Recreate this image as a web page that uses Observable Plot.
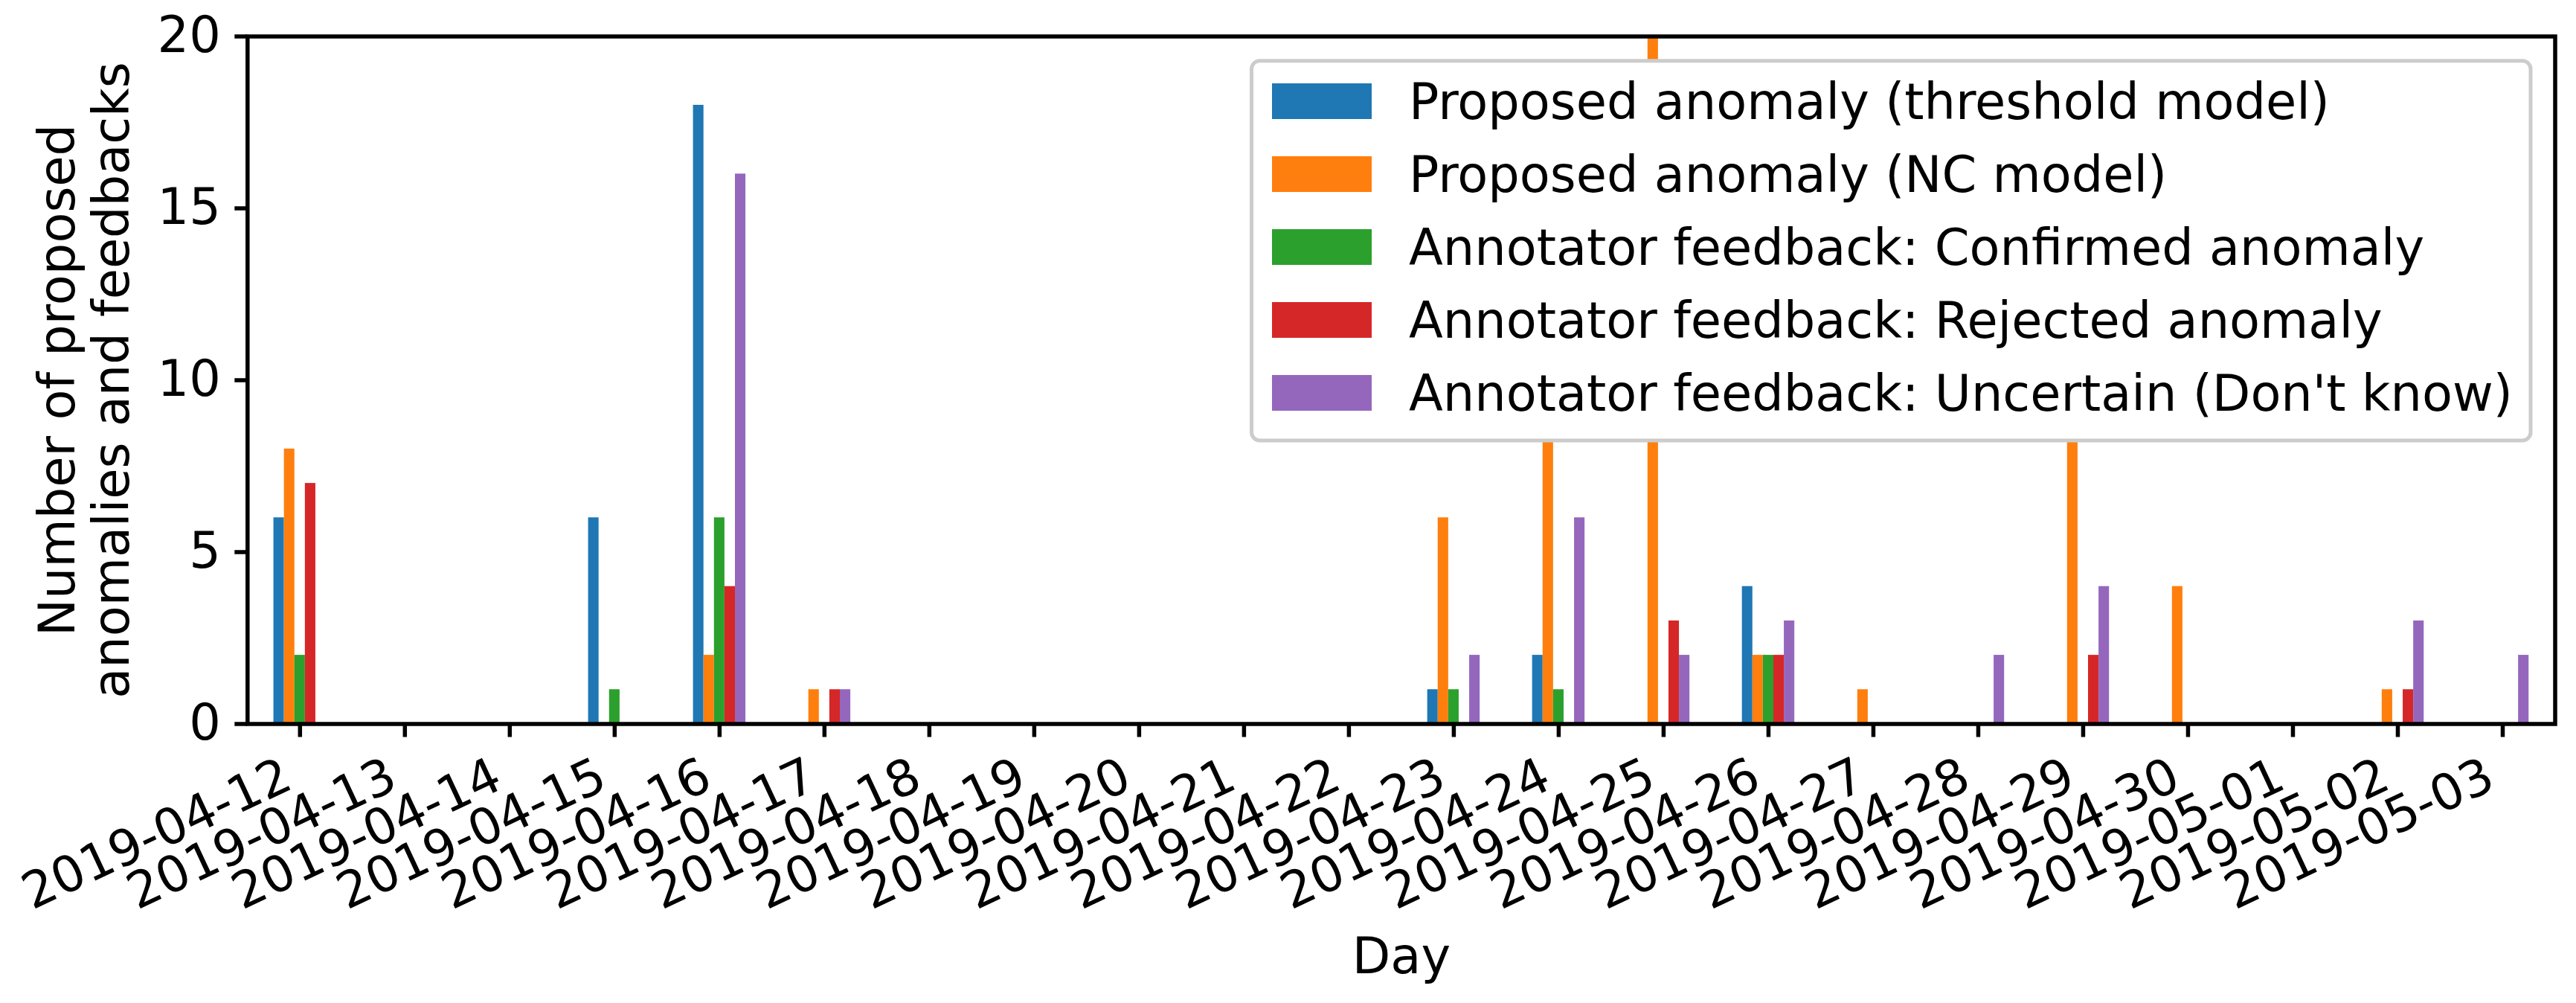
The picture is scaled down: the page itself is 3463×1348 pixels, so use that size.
<!DOCTYPE html>
<html>
<head>
<meta charset="utf-8">
<script src="https://cdn.jsdelivr.net/npm/d3@7"></script>
<script src="https://cdn.jsdelivr.net/npm/@observablehq/plot@0.6"></script>
<style>
  html, body { margin: 0; padding: 0; background: #ffffff; }
  #wrap { position: relative; width: 3463px; height: 1348px; overflow: hidden; font-family: "DejaVu Sans", sans-serif; }
  #wrap > svg { position: absolute; left: 0; top: 0; }
</style>
</head>
<body>
<div id="wrap"></div>
<script>
// ---------- data ----------
const days = ["2019-04-12","2019-04-13","2019-04-14","2019-04-15","2019-04-16","2019-04-17",
  "2019-04-18","2019-04-19","2019-04-20","2019-04-21","2019-04-22","2019-04-23","2019-04-24",
  "2019-04-25","2019-04-26","2019-04-27","2019-04-28","2019-04-29","2019-04-30","2019-05-01",
  "2019-05-02","2019-05-03"];

const seriesNames = [
  "Proposed anomaly (threshold model)",
  "Proposed anomaly (NC model)",
  "Annotator feedback: Confirmed anomaly",
  "Annotator feedback: Rejected anomaly",
  "Annotator feedback: Uncertain (Don't know)"
];
const seriesColors = ["#1f77b4", "#ff7f0e", "#2ca02c", "#d62728", "#9467bd"];

const thresholdModel = [6,0,0,6,18,0,0,0,0,0,0,1,2,0,4,0,0,0,0,0,0,0];
const ncModel        = [8,0,0,0,2,1,0,0,0,0,0,6,12,22,2,1,0,10,4,0,1,0];
const confirmed      = [2,0,0,1,6,0,0,0,0,0,0,1,1,0,2,0,0,0,0,0,0,0];
const rejected       = [7,0,0,0,4,1,0,0,0,0,0,0,0,3,2,0,0,2,0,0,1,0];
const uncertain      = [0,0,0,0,16,1,0,0,0,0,0,2,6,2,3,0,2,4,0,0,3,2];

const yTicks = [0, 5, 10, 15, 20];
const xLabel = "Day";
const yLabel = "Number of proposed\nanomalies and feedbacks";

// ---------- build table ----------
const DAY = 24 * 3600 * 1000;
const seriesValues = [thresholdModel, ncModel, confirmed, rejected, uncertain];
const dayDates = days.map(d => new Date(d + "T00:00:00Z"));
const rows = [];
seriesValues.forEach((vals, k) => {
  vals.forEach((v, i) => rows.push({date: dayDates[i], k, series: seriesNames[k], value: v}));
});
const barWidth = 0.1; // in days
const fmt = d3.utcFormat("%Y-%m-%d");

const W = 3463, H = 1348;
const FS = 67;

const plot = Plot.plot({
  width: W,
  height: H,
  marginLeft: 332.3,
  marginRight: 28.5,
  marginTop: 48.5,
  marginBottom: 375.5,
  style: {fontFamily: "DejaVu Sans", fontSize: FS + "px", background: "white", color: "black"},
  x: {type: "utc", domain: [new Date(+dayDates[0] - 0.5 * DAY), new Date(+dayDates[dayDates.length - 1] + 0.5 * DAY)]},
  y: {domain: [0, 20], nice: false},
  color: {domain: seriesNames, range: seriesColors},
  marks: [
    Plot.rectY(rows, {
      x1: d => new Date(+d.date + (d.k - 2.5) * barWidth * DAY),
      x2: d => new Date(+d.date + (d.k - 1.5) * barWidth * DAY),
      y: "value",
      fill: "series",
      clip: true
    }),
    Plot.frame({stroke: "black", strokeWidth: 5.5}),
    Plot.axisY({ticks: yTicks, tickSize: 17, tickPadding: 19, strokeWidth: 5.5, label: null, fontSize: FS, tickFormat: d => String(d)}),
    Plot.axisX({ticks: dayDates, tickSize: 18, strokeWidth: 5.5, label: null, tickFormat: () => ""}),
    Plot.text(dayDates, {
      x: d => d, text: d => fmt(d), frameAnchor: "bottom",
      rotate: -25, textAnchor: "end", lineAnchor: "bottom",
      dx: -7, dy: 85.5, fontSize: FS, fill: "black"
    }),
    Plot.text([yLabel], {
      text: d => d, frameAnchor: "left", rotate: -90, textAnchor: "middle",
      lineAnchor: "bottom", lineHeight: 1.09, dx: -159.3, fontSize: FS, fill: "black"
    }),
    Plot.text([xLabel], {
      text: d => d, frameAnchor: "bottom", textAnchor: "middle", lineAnchor: "bottom",
      dy: 334.5, fontSize: FS, fill: "black"
    })
  ]
});
document.getElementById("wrap").appendChild(plot);

// ---------- legend overlay ----------
const lg = d3.select("#wrap").append("svg")
  .attr("width", W).attr("height", H)
  .attr("font-family", "DejaVu Sans")
  .style("pointer-events", "none");
lg.append("rect")
  .attr("x", 1682.5).attr("y", 81.7)
  .attr("width", 1719.5).attr("height", 510.3)
  .attr("rx", 11).attr("ry", 11)
  .attr("fill", "white").attr("stroke", "#cccccc").attr("stroke-width", 5);
seriesNames.forEach((name, i) => {
  lg.append("rect")
    .attr("x", 1710).attr("y", 112 + 98 * i)
    .attr("width", 134).attr("height", 48)
    .attr("fill", seriesColors[i]);
  lg.append("text")
    .attr("x", 1894).attr("y", 160 + 98 * i)
    .attr("font-size", FS)
    .attr("fill", "black")
    .text(name);
});
</script>
</body>
</html>
